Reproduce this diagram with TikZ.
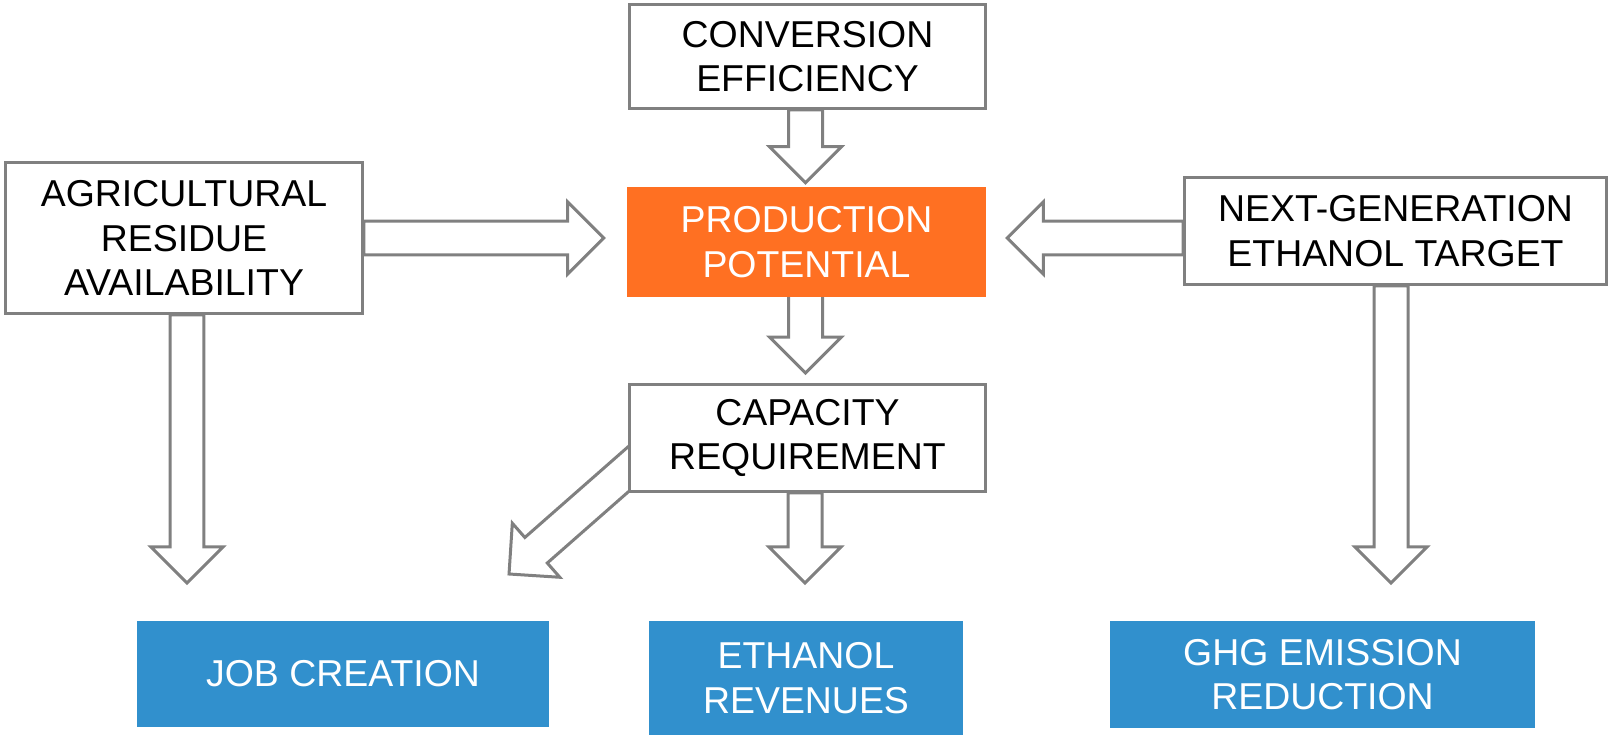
\documentclass[tikz,border=0pt]{standalone}
\usepackage{fontspec}
\setmainfont{Liberation Sans}
\usetikzlibrary{calc,backgrounds}
\definecolor{linegray}{RGB}{128,128,128}
\definecolor{orangefill}{RGB}{255,112,34}
\definecolor{bluefill}{RGB}{49,144,205}
\begin{document}
\begin{tikzpicture}[x=0.02cm,y=0.02cm,
  txt/.style={align=center, inner sep=0pt, font=\fontsize{21.3}{25.4}\selectfont},
  whitebox/.style={txt, draw=linegray, line width=0.06cm, fill=white, text=black},
  orangebox/.style={txt, fill=orangefill, text=white},
  bluebox/.style={txt, fill=bluefill, text=white},
  barrow/.style={draw=linegray, line width=0.06cm, fill=white, line join=miter,
    to path={
      -- ($(\tikztostart)!0.34cm!90:(\tikztotarget)$)
      -- ($($(\tikztotarget)!0.72cm!(\tikztostart)$)!0.34cm!90:(\tikztotarget)$)
      -- ($($(\tikztotarget)!0.72cm!(\tikztostart)$)!0.72cm!90:(\tikztotarget)$)
      -- (\tikztotarget)
      -- ($($(\tikztotarget)!0.72cm!(\tikztostart)$)!0.72cm!-90:(\tikztotarget)$)
      -- ($($(\tikztotarget)!0.72cm!(\tikztostart)$)!0.34cm!-90:(\tikztotarget)$)
      -- ($(\tikztostart)!0.34cm!-90:(\tikztotarget)$)
      -- cycle}}
]
\useasboundingbox (0,0) rectangle (1610,-736);

% nodes
\node[whitebox, minimum width=7.12cm, minimum height=2.08cm] (conv) at (807.5,-56.5) {CONVERSION\\EFFICIENCY};
\node[whitebox, minimum width=7.14cm, minimum height=3.02cm] (agri) at (184,-238) {AGRICULTURAL\\RESIDUE\\AVAILABILITY};
\node[orangebox, minimum width=7.18cm, minimum height=2.2cm] (prod) at (806.5,-242) {PRODUCTION\\POTENTIAL};
\node[whitebox, minimum width=8.44cm, minimum height=2.14cm] (next) at (1395.5,-231) {NEXT-GENERATION\\ETHANOL TARGET};
\node[whitebox, minimum width=7.12cm, minimum height=2.14cm] (cap) at (807.5,-438) {CAPACITY\\REQUIREMENT};
\node[bluebox, minimum width=8.24cm, minimum height=2.12cm] (job) at (343,-674) {JOB CREATION};
\node[bluebox, minimum width=6.28cm, minimum height=2.28cm] (rev) at (806,-678) {ETHANOL\\REVENUES};
\node[bluebox, minimum width=8.5cm, minimum height=2.14cm] (ghg) at (1322.5,-674.5) {GHG EMISSION\\REDUCTION};

% arrow end points
\coordinate (a1s) at ($(conv.south)+(-2,0)$);
\coordinate (a1t) at ($(prod.north)+(-1,4)$);
\coordinate (a2s) at ($(prod.south)+(-1,5)$);
\coordinate (a2t) at ($(cap.north)+(-2,10)$);
\coordinate (a3s) at (agri.east);
\coordinate (a3t) at ($(prod.west)+(-23,4)$);
\coordinate (a4s) at ($(next.west)+(0,-7)$);
\coordinate (a4t) at ($(prod.east)+(21,4)$);
\coordinate (a5s) at ($(agri.south)+(3,0)$);
\coordinate (a5t) at ($(agri.south)+(3,-268)$);
\coordinate (a6s) at ($(next.south)+(-4.5,0)$);
\coordinate (a6t) at ($(next.south)+(-4.5,-297)$);
\coordinate (a7s) at ($(cap.south)+(-2.5,0)$);
\coordinate (a7t) at ($(cap.south)+(-2.5,-90)$);
\coordinate (a8s) at ($(cap.west)+(21,-13)$);
\coordinate (a8t) at ($(cap.west)+(-119,-136)$);

\begin{scope}[on background layer]
  \draw[barrow] (a1s) to (a1t);
  \draw[barrow] (a2s) to (a2t);
  \draw[barrow] (a3s) to (a3t);
  \draw[barrow] (a4s) to (a4t);
  \draw[barrow] (a5s) to (a5t);
  \draw[barrow] (a6s) to (a6t);
  \draw[barrow] (a7s) to (a7t);
  \draw[barrow] (a8s) to (a8t);
\end{scope}
\end{tikzpicture}
\end{document}
